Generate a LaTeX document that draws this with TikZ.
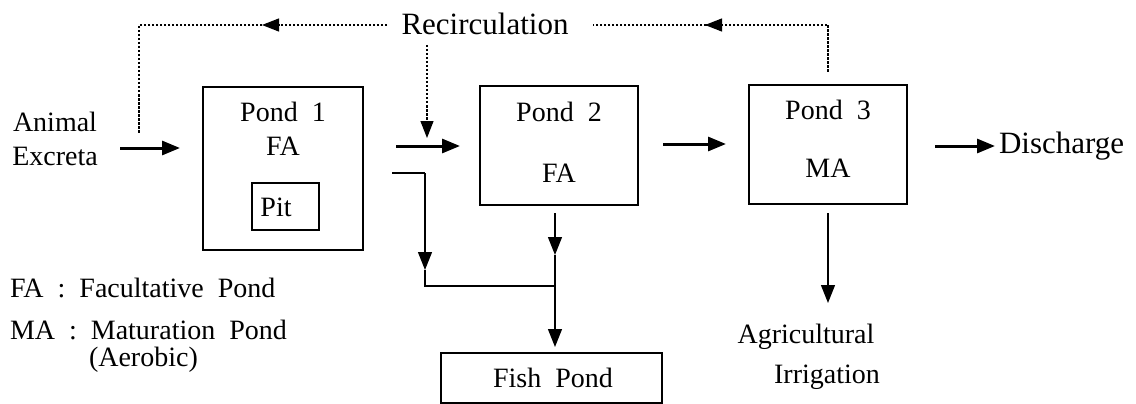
\documentclass[tikz,border=0pt]{standalone}
\usepackage{fontspec}
\setmainfont{Liberation Serif}
\usetikzlibrary{arrows.meta}
\begin{document}
\begin{tikzpicture}[x=1pt,y=-1pt,
  txt/.style={font=\fontsize{28}{34}\selectfont, inner sep=0pt, outer sep=0pt},
  bigtxt/.style={font=\fontsize{31}{36}\selectfont, inner sep=0pt, outer sep=0pt},
  pondbox/.style={draw, line width=2.6pt, inner sep=0pt, outer sep=0pt},
  thinbox/.style={draw, line width=1.4pt, inner sep=0pt, outer sep=0pt},
  flow/.style={line width=3pt, -{Triangle[length=18pt,width=14pt]}},
  down/.style={line width=1.4pt, -{Triangle[length=18pt,width=14pt]}},
  plain/.style={line width=1.4pt},
  recirc/.style={line width=1.1pt, dash pattern=on 2.5pt off 1.5pt},
  recarrow/.style={recirc, -{Triangle[length=17pt,width=13pt]}}]
\useasboundingbox (0,0) rectangle (1136,404);

% boxes
\node[pondbox, minimum width=160pt, minimum height=163pt] (p1) at (283,168.5) {};
\node[thinbox, minimum width=67pt, minimum height=47pt] (pit) at (285.5,206.5) {};
\node[pondbox, minimum width=158pt, minimum height=119pt] (p2) at (559,145.5) {};
\node[pondbox, minimum width=158pt, minimum height=119pt] (p3) at (828,144.5) {};
\node[pondbox, minimum width=221pt, minimum height=50pt] (fish) at (551.5,378) {};

% texts
\node[txt] (p1a) at (283,112) {Pond\ \ 1};
\node[txt] (p1b) at (283,146) {FA};
\node[txt] (pitt) at (276,207) {Pit};
\node[txt] (p2a) at (559,112) {Pond\ \ 2};
\node[txt] (p2b) at (559,173) {FA};
\node[txt] (p3a) at (828,110) {Pond\ \ 3};
\node[txt] (p3b) at (828,168) {MA};
\node[txt] (fisht) at (553,378) {Fish\ \ Pond};
\node[txt, align=center] (animal) at (55,139) {Animal\\Excreta};
\node[bigtxt, anchor=west] (dis) at (999,146) {Discharge};
\node[bigtxt] (recirc) at (485,24) {Recirculation};
\node[txt] (agri) at (806,337) {Agricultural};
\node[txt] (irri) at (827,377) {Irrigation};
\node[txt, anchor=west] (leg1) at (10,288) {FA\ \ :\ \ Facultative\ \ Pond};
\node[txt, anchor=west] (leg2) at (10,330) {MA\ \ :\ \ Maturation\ \ Pond};
\node[txt, anchor=west] (leg3) at (89,360) {(Aerobic)};

% coordinates
\coordinate (inS) at (120,148);
\coordinate (inE) at (180,148);
\coordinate (a12S) at (396,146);
\coordinate (a12E) at (460,146);
\coordinate (a23S) at (663,144);
\coordinate (a23E) at (726,144);
\coordinate (disS) at (935,146);
\coordinate (disE) at (995,146);
\coordinate (brS) at (392,173);
\coordinate (brC) at (425,173);
\coordinate (brM) at (425,270);
\coordinate (brJ) at (425,286);
\coordinate (jn) at (555,286);
\coordinate (p2S) at (555,213);
\coordinate (p2M) at (555,255);
\coordinate (fishE) at (555,347);
\coordinate (p3S) at (828,213);
\coordinate (p3E) at (828,303);
\coordinate (rlS) at (387,25);
\coordinate (rlM) at (262,25);
\coordinate (rlC) at (139,25);
\coordinate (rlE) at (139,133);
\coordinate (rrS) at (828,72);
\coordinate (rrC) at (828,25);
\coordinate (rrM) at (706,25);
\coordinate (rrE) at (593,25);
\coordinate (rmS) at (427,45);
\coordinate (rmE) at (427,138);

% main flow
\draw[flow] (inS) -- (inE);
\draw[flow] (a12S) -- (a12E);
\draw[flow] (a23S) -- (a23E);
\draw[flow] (disS) -- (disE);

% branches to fish pond
\draw[plain] (brS) -- (brC);
\draw[down] (brC) -- (brM);
\draw[plain] (brM) -- (brJ) -- (jn);
\draw[down] (p2S) -- (p2M);
\draw[down] (p2M) -- (fishE);
\draw[down] (p3S) -- (p3E);

% recirculation
\draw[recarrow] (rlS) -- (rlM);
\draw[recirc] (rlM) -- (rlC) -- (rlE);
\draw[recirc] (rrS) -- (rrC) -- (rrM);
\draw[recarrow] (rrM) -- ++(-1,0);
\draw[recirc] (rrM) -- (rrE);
\draw[recarrow] (rmS) -- (rmE);
\end{tikzpicture}
\end{document}
